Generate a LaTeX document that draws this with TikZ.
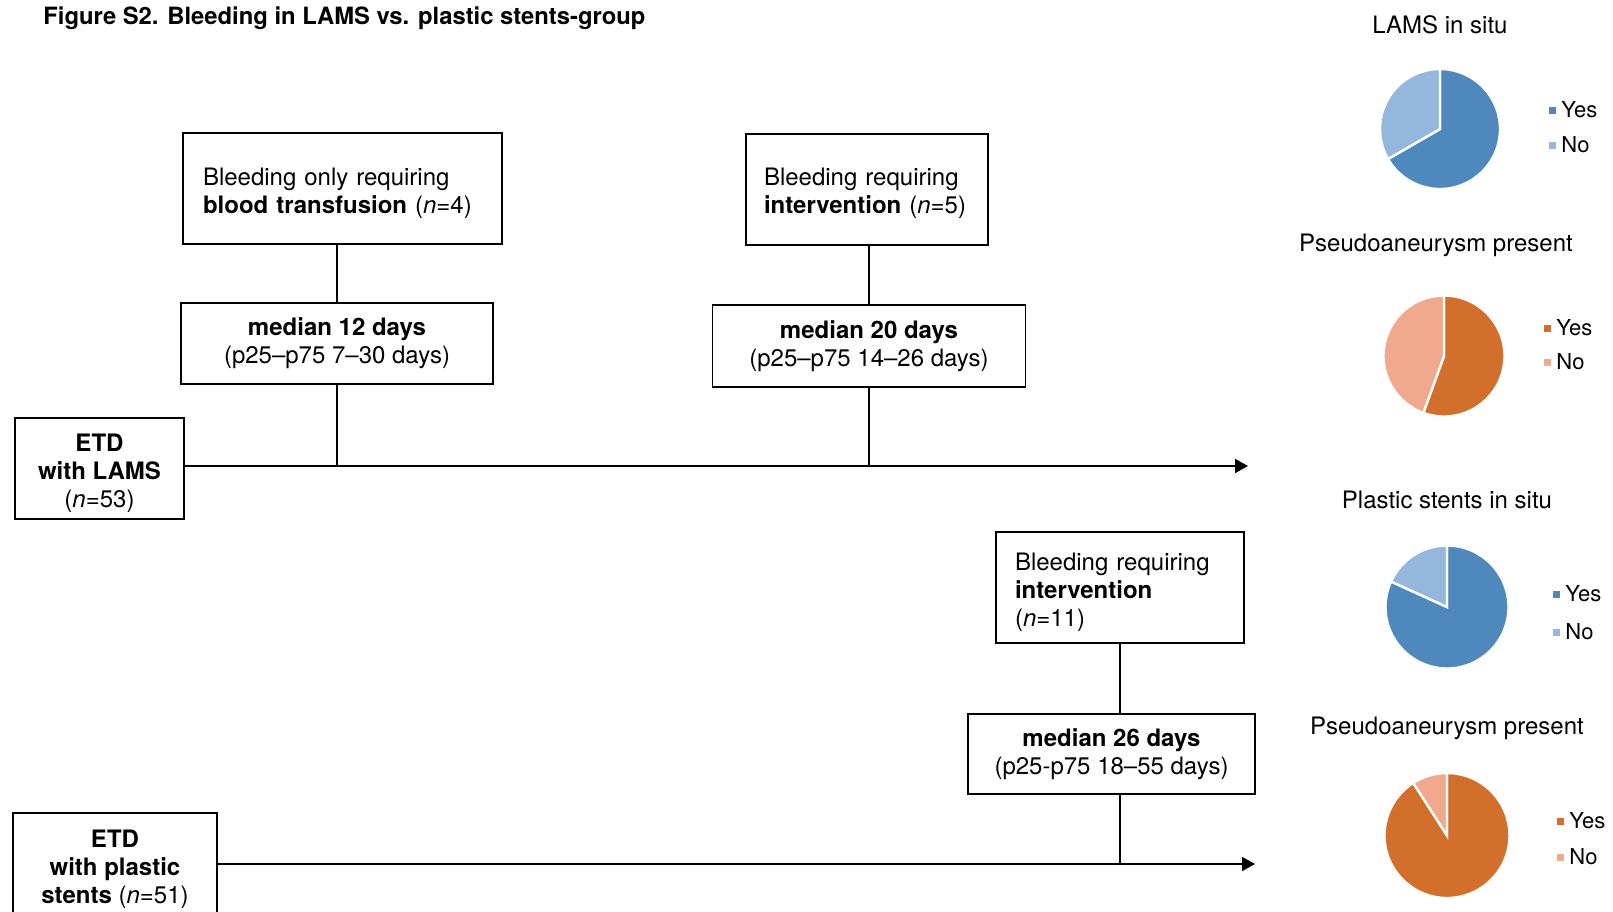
\documentclass[tikz,border=0pt]{standalone}
\usepackage{fontspec}
\setmainfont{TeX Gyre Heros}
\usepackage{xcolor}
\usepackage{tikz}
\usetikzlibrary{arrows.meta,positioning,calc}

\definecolor{yesblue}{RGB}{79,136,189}
\definecolor{noblue}{RGB}{149,183,222}
\definecolor{yesorange}{RGB}{211,111,45}
\definecolor{noorange}{RGB}{240,169,141}

\newcommand{\boxpad}[1][14pt]{\rule{0pt}{#1}}

\begin{document}
\begin{tikzpicture}[
  x=0.5pt, y=-0.5pt,
  every node/.style={font=\fontsize{12}{14}\selectfont},
  evbox/.style={draw, line width=0.6pt, inner ysep=0pt, align=left},
  medbox/.style={draw, line width=0.6pt, inner sep=0pt, align=center},
  etdbox/.style={draw, line width=1.3pt, inner sep=0pt, align=center},
  link/.style={line width=0.8pt},
  axis/.style={line width=0.8pt, -{Triangle[length=6.5pt,width=7pt]}},
  ttl/.style={font=\fontsize{11.9}{14}\selectfont\bfseries, anchor=west, inner sep=0pt},
  pttl/.style={font=\fontsize{12}{14}\selectfont, inner sep=0pt},
  lgd/.style={font=\fontsize{11}{12}\selectfont, anchor=west, inner sep=0pt},
  slice/.style={draw=white, line width=1.2pt}
]
  \useasboundingbox (0,0) rectangle (1613,911);

  \node[ttl] (title) at (43,18) {Figure S2. Bleeding in LAMS vs. plastic stents-group};

  % LAMS group
  \node[evbox, inner xsep=10pt, text width=139.5pt, minimum height=55.5pt] (transf) at (342.5,188.5)
    {\boxpad Bleeding only requiring\\\textbf{blood transfusion} (\textit{n}=4)};
  \node[evbox, inner xsep=9pt, text width=103pt, minimum height=55.5pt] (intA) at (867,189.5)
    {\boxpad[13pt]Bleeding requiring\\\textbf{intervention} (\textit{n}=5)};
  \node[medbox, minimum width=156pt, minimum height=40.5pt] (medA) at (337,343.5)
    {\textbf{median 12 days}\\(p25–p75 7–30 days)};
  \node[medbox, minimum width=156.5pt, minimum height=41pt] (medB) at (869,346)
    {\textbf{median 20 days}\\(p25–p75 14–26 days)};
  \node[etdbox, minimum width=84.5pt, minimum height=50.5pt] (lams) at (99.5,468.5)
    {\boxpad\textbf{ETD}\\\textbf{with LAMS}\\(\textit{n}=53)};
  \coordinate (endA) at (1248,466);

  \draw[link] (medA.north) -- (medA.north |- transf.south);
  \draw[link] (medA.south) -- (medA.south |- endA);
  \draw[link] (medB.north) -- (medB.north |- intA.south);
  \draw[link] (medB.south) -- (medB.south |- endA);
  \draw[axis] (lams.east |- endA) -- (endA);

  % plastic stents group
  \node[evbox, inner xsep=9.5pt, text width=105pt, minimum height=55.5pt] (intC) at (1120,587.5)
    {\boxpad Bleeding requiring\\\textbf{intervention}\\(\textit{n}=11)};
  \node[medbox, minimum width=143.5pt, minimum height=40pt] (medC) at (1111.5,754)
    {\textbf{median 26 days}\\(p25-p75 18–55 days)};
  \node[etdbox, minimum width=102pt, minimum height=54pt] (plastic) at (115,867)
    {\boxpad[10.8pt]\textbf{ETD}\\\textbf{with plastic}\\\textbf{stents} (\textit{n}=51)};
  \coordinate (endB) at (1255,864);

  \draw[link] (intC.south) -- (intC.south |- medC.north);
  \draw[link] (intC.south |- medC.south) -- (intC.south |- endB);
  \draw[axis] (plastic.east |- endB) -- (endB);

  % pie charts
  \foreach \cx/\cy/\r/\cut/\dark/\light/\name/\tx/\ty/\lx/\ly/\lz [count=\i] in {
    1440/129/60/-150/yesblue/noblue/LAMS in situ/1440/25/1552/110/145,
    1444/356/60.5/-110/yesorange/noorange/Pseudoaneurysm present/1436/245/1547/328/362,
    1447/607/61.5/-204.5/yesblue/noblue/Plastic stents in situ/1447/500/1556/594/632,
    1447/835.5/62.5/-237.3/yesorange/noorange/Pseudoaneurysm present/1447/728/1560/821/857} {
    \node[pttl] (pie\i) at (\tx,\ty) {\name};
    \begin{scope}[shift={(\cx,\cy)}, x=0.5pt, y=0.5pt]
      \filldraw[slice, fill=\dark] (0,0) -- (90:\r) arc[start angle=90, end angle=\cut, radius=\r] -- cycle;
      \filldraw[slice, fill=\light] (0,0) -- (\cut:\r) arc[start angle=\cut, end angle=-270, radius=\r] -- cycle;
    \end{scope}
    \fill[\dark] (\lx-3.5,\ly-3.5) rectangle ++(7,7);
    \fill[\light] (\lx-3.5,\lz-3.5) rectangle ++(7,7);
    \node[lgd] (yes\i) at (\lx+9,\ly) {Yes};
    \node[lgd] (no\i) at (\lx+9,\lz) {No};
  }
\end{tikzpicture}
\end{document}
